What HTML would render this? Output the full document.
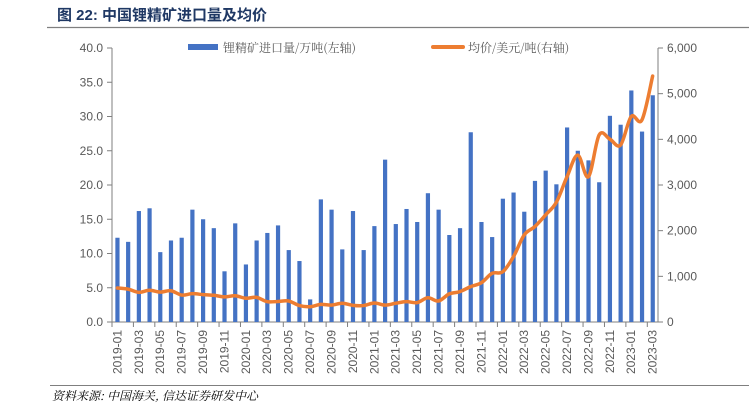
<!DOCTYPE html>
<html><head><meta charset="utf-8"><style>
body{margin:0;background:#fff;width:749px;height:408px;overflow:hidden;font-family:"Liberation Sans","Noto Sans CJK SC",sans-serif}
</style></head><body>
<svg id="c" width="749" height="408" xmlns="http://www.w3.org/2000/svg">
<text x="57" y="20" font-size="15" font-weight="bold" fill="#1F3864" font-family="Liberation Sans, Noto Sans CJK SC, sans-serif">图 22:  中国锂精矿进口量及均价</text>
<line x1="47" y1="27.5" x2="749" y2="27.5" stroke="#7f7f7f" stroke-width="1.2"/>
<g>
<rect x="188" y="44" width="30" height="6" fill="#4472C4"/>
<text x="223" y="52" font-size="12" fill="#595959" font-family="Noto Serif CJK SC, serif">锂精矿进口量/万吨(左轴)</text>
<line x1="433" y1="47" x2="463" y2="47" stroke="#ED7D31" stroke-width="4" stroke-linecap="round"/>
<text x="468" y="52" font-size="12" fill="#595959" font-family="Noto Serif CJK SC, serif">均价/美元/吨(右轴)</text>
</g>
<g id="axes"></g><g id="bars"></g><g id="line"></g>
<line x1="50" y1="385.5" x2="749" y2="385.5" stroke="#7f7f7f" stroke-width="1"/>
<text x="52" y="400" font-size="12" font-style="italic" fill="#000" font-family="Noto Serif CJK SC, serif">资料来源: 中国海关, 信达证券研发中心</text>
</svg>
<script>
const volume=[12.3,11.7,16.2,16.6,10.2,11.9,12.3,16.4,15.0,13.7,7.4,14.4,8.4,11.9,13.0,14.1,10.5,8.9,3.3,17.9,16.4,10.6,16.2,10.5,14.0,23.7,14.3,16.5,14.6,18.8,16.4,12.7,13.7,27.7,14.6,12.4,18.0,18.9,16.1,20.6,22.1,20.1,28.4,25.0,23.6,20.4,30.1,28.8,33.8,27.8,33.1];
const price=[745,720,650,695,655,685,590,620,600,585,550,575,520,540,445,450,460,360,335,385,370,410,365,360,415,370,410,445,425,530,460,615,665,775,860,1065,1100,1430,1905,2090,2345,2620,3180,3655,3180,4095,4005,3875,4500,4425,5385];
const leftTicks=[0,5,10,15,20,25,30,35,40];
const rightTicks=[0,1000,2000,3000,4000,5000,6000];
const months=[];
for(let y=2019;y<=2023;y++)for(let m=1;m<=12;m++){if(y===2023&&m>3)break;months.push(y+'-'+String(m).padStart(2,'0'));}
const NS='http://www.w3.org/2000/svg';
const X0=112,X1=658,Y0=322,Y1=48,n=months.length,cw=(X1-X0)/n;
const xc=i=>X0+cw*(i+0.5);
const yl=v=>Y0-(v/40)*(Y0-Y1);
const yr=v=>Y0-(v/6000)*(Y0-Y1);
function mk(t,a,p){const e=document.createElementNS(NS,t);for(const k in a)e.setAttribute(k,a[k]);p.appendChild(e);return e;}
const ax=document.getElementById('axes'),bg=document.getElementById('bars'),lg=document.getElementById('line');
const gray='#7f7f7f',tf='#595959';
let e=mk('line',{x1:X0,y1:Y1,x2:X0,y2:Y0,stroke:gray},ax);


e=mk('line',{x1:X1,y1:Y1,x2:X1,y2:Y0,stroke:gray},ax);


e=mk('line',{x1:X0,y1:Y0,x2:X1,y2:Y0,stroke:gray},ax);


leftTicks.forEach(v=>{const y=yl(v);mk('line',{x1:X0-5,y1:y,x2:X0,y2:y,stroke:gray},ax);
const t=mk('text',{x:X0-9,y:y+4,'font-size':12,fill:tf,'text-anchor':'end'},ax);t.textContent=v.toFixed(1);

});
rightTicks.forEach(v=>{const y=yr(v);mk('line',{x1:X1,y1:y,x2:X1+5,y2:y,stroke:gray},ax);
const t=mk('text',{x:X1+9,y:y+4,'font-size':12,fill:tf},ax);t.textContent=v.toLocaleString('en-US');

});
for(let i=0;i<=n;i+=2){const x=X0+cw*i;mk('line',{x1:x,y1:Y0,x2:x,y2:Y0+5,stroke:gray},ax);}
months.forEach((m,i)=>{if(i%2)return;const x=xc(i);
const t=mk('text',{x:0,y:0,'font-size':12,fill:tf,'text-anchor':'end',transform:`translate(${x+4},${Y0+8}) rotate(-90)`},ax);t.textContent=m;

});
volume.forEach((v,i)=>{const r=mk('rect',{x:xc(i)-2,y:yl(v),width:4.2,height:Y0-yl(v),fill:'#4472C4'},bg);

});
const pts=price.map((v,i)=>[xc(i),yr(v)]);
let d='M'+pts[0][0]+','+pts[0][1];
for(let i=0;i<pts.length-1;i++){const p0=pts[i-1]||pts[i],p1=pts[i],p2=pts[i+1],p3=pts[i+2]||p2;
d+=`C${p1[0]+(p2[0]-p0[0])/6},${p1[1]+(p2[1]-p0[1])/6} ${p2[0]-(p3[0]-p1[0])/6},${p2[1]-(p3[1]-p1[1])/6} ${p2[0]},${p2[1]}`;}
const pl=mk('path',{d:d,fill:'none',stroke:'#ED7D31','stroke-width':3.5,'stroke-linejoin':'round','stroke-linecap':'round'},lg);


</script>
</body></html>
